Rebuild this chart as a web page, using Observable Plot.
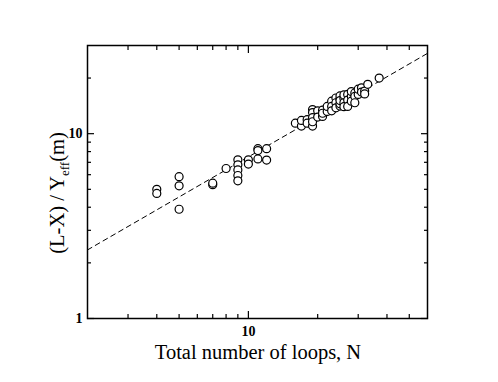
<!DOCTYPE html>
<html><head><meta charset="utf-8">
<script src="https://cdn.jsdelivr.net/npm/d3@7"></script>
<script src="https://cdn.jsdelivr.net/npm/@observablehq/plot@0.6"></script>
<style>body{margin:0;background:#fff}</style>
</head><body><div id="chart"></div>
<script>
// Data
const loopsN = [
  4,4, 5,5,5, 7,7, 8, 9,9,9,9,9, 10,10, 11,11,11, 12,12,
  16, 17,17, 18,18, 19,19,19,19,19, 20,20, 21,21,21, 22,22, 23,23,23,
  24,24,24, 25,25,25,25,25, 26,26,26,26, 27,27,27, 28,28,28, 29,29,29,
  30,30, 31,31, 32,32, 33, 37
];
const ratio = [
  5.0,4.75, 5.85,5.22,3.9, 5.3,5.4, 6.48, 7.22,6.78,6.37,5.94,5.56, 7.22,6.85, 8.3,8.1,7.3, 8.3,7.2,
  11.4, 11.0,11.8, 11.9,11.4, 13.5,13.0,12.2,11.0,11.6, 13.3,12.3, 13.4,12.4,12.9, 13.2,14.05, 15.0,14.05,13.3,
  15.6,14.7,13.8, 15.4,14.1,16.0,14.5,15.1, 15.5,14.7,16.2,14.0, 16.3,15.2,14.05, 15.9,15.0,16.9, 16.6,15.9,14.7,
  16.3,17.4, 17.7,16.8, 17.0,16.4, 18.5, 20.0
];
const fitN = [2, 60];
const fitRatio = [2.35, 27.2];
const xMajorTicks = [10];
const xMinorTicks = [3, 4, 5, 6, 7, 8, 9, 20, 30, 40, 50];
const yMajorTicks = [1, 10];
const yMinorTicks = [2, 3, 4, 5, 6, 7, 8, 9, 20];
const xTitle = "Total number of loops, N";

const points = loopsN.map((n, i) => ({n, r: ratio[i]}));
const fit = fitN.map((n, i) => ({n, r: fitRatio[i]}));

const serif = "Liberation Serif, Times New Roman, serif";
const tk = (size) => ({tickSize: size, tickFormat: () => "", label: null, stroke: "#000", strokeWidth: 1.2});

const chart = Plot.plot({
  width: 498,
  height: 382,
  marginLeft: 87,
  marginRight: 71,
  marginTop: 45,
  marginBottom: 64,
  style: {fontFamily: serif, color: "#000", background: "#fff"},
  x: {type: "log", domain: [2, 60]},
  y: {type: "log", domain: [1, 30]},
  marks: [
    Plot.line(fit, {x: "n", y: "r", stroke: "#000", strokeWidth: 1, strokeDasharray: "5,4"}),
    // inward ticks on all four sides
    Plot.axisX(xMajorTicks, {anchor: "bottom", ...tk(-7)}),
    Plot.axisX(xMinorTicks, {anchor: "bottom", ...tk(-4)}),
    Plot.axisX(xMajorTicks, {anchor: "top", ...tk(-7)}),
    Plot.axisX(xMinorTicks, {anchor: "top", ...tk(-4)}),
    Plot.axisY(yMajorTicks, {anchor: "left", ...tk(-7)}),
    Plot.axisY(yMinorTicks, {anchor: "left", ...tk(-4)}),
    Plot.axisY(yMajorTicks, {anchor: "right", ...tk(-7)}),
    Plot.axisY(yMinorTicks, {anchor: "right", ...tk(-4)}),
    Plot.axisX(xMajorTicks, {anchor: "bottom", tickSize: 0, tickPadding: 8, label: null, fontSize: 14, fontWeight: "bold", tickFormat: d => String(d)}),
    Plot.axisY(yMajorTicks, {anchor: "left", tickSize: 0, tickPadding: 5, label: null, fontSize: 14, fontWeight: "bold", tickFormat: d => String(d)}),
    Plot.dot(points, {x: "n", y: "r", r: 4, fill: "#fff", stroke: "#000", strokeWidth: 1.2}),
    Plot.frame({stroke: "#000", strokeWidth: 1.5})
  ]
});
document.getElementById("chart").appendChild(chart);

const svg = d3.select(chart);
svg.append("text")
  .attr("x", 258).attr("y", 359)
  .attr("text-anchor", "middle")
  .attr("font-family", serif).attr("font-size", 20.5).attr("fill", "#000")
  .text(xTitle);
const yl = svg.append("text")
  .attr("transform", "translate(64,193) rotate(-90)")
  .attr("text-anchor", "middle")
  .attr("font-family", serif).attr("font-size", 20.5).attr("fill", "#000");
yl.append("tspan").text("(L-X) / Y");
yl.append("tspan").attr("font-size", 13).attr("dy", 5).text("eff");
yl.append("tspan").attr("dy", -5).text("(m)");
</script>
</body></html>
